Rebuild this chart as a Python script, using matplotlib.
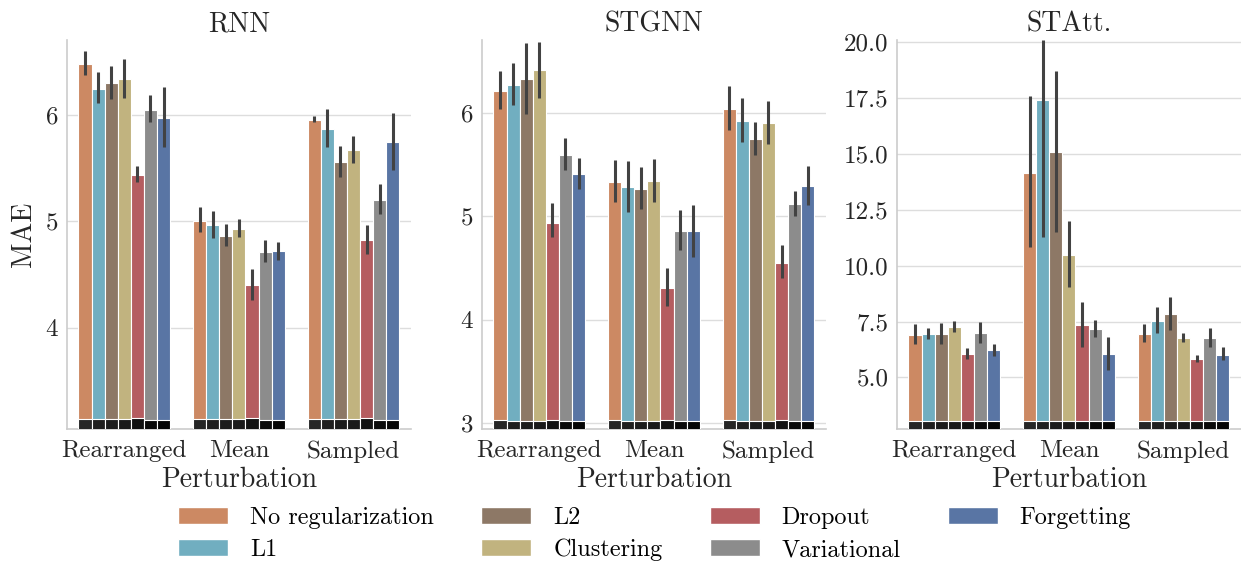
import colorsys
import numpy as np
import matplotlib
matplotlib.use("Agg")
import matplotlib.pyplot as plt
import matplotlib.colors as mcolors
from matplotlib.patches import Patch

# Datos
models = ["RNN", "STGNN", "STAtt."]
perturbations = ["Rearranged", "Mean", "Sampled"]
methods = ["No regularization", "L1", "L2", "Clustering", "Dropout", "Variational", "Forgetting"]

# MAE medio, por perturbacion (filas) y metodo (columnas)
rnn_mae = [[6.48, 6.245, 6.30, 6.336, 5.437, 6.047, 5.97],
           [5.006, 4.965, 4.865, 4.93, 4.40, 4.71, 4.717],
           [5.953, 5.868, 5.56, 5.667, 4.82, 5.20, 5.745]]
rnn_lo = [[6.368, 6.11, 6.15, 6.16, 5.365, 5.93, 5.695],
          [4.90, 4.84, 4.77, 4.85, 4.264, 4.62, 4.64],
          [5.93, 5.70, 5.418, 5.547, 4.69, 5.07, 5.48]]
rnn_hi = [[6.597, 6.40, 6.46, 6.525, 5.52, 6.18, 6.255],
          [5.13, 5.10, 4.97, 5.02, 4.555, 4.82, 4.805],
          [5.985, 6.05, 5.71, 5.796, 4.965, 5.346, 6.016]]

stgnn_mae = [[6.209, 6.267, 6.32, 6.41, 4.93, 5.595, 5.41],
             [5.334, 5.283, 5.264, 5.341, 4.309, 4.858, 4.852],
             [6.039, 5.92, 5.746, 5.904, 4.55, 5.119, 5.289]]
stgnn_lo = [[6.03, 6.074, 5.99, 6.145, 4.80, 5.45, 5.26],
            [5.14, 5.04, 5.07, 5.14, 4.13, 4.67, 4.61],
            [5.833, 5.714, 5.59, 5.70, 4.40, 5.006, 5.11]]
stgnn_hi = [[6.40, 6.48, 6.67, 6.68, 5.125, 5.75, 5.563],
            [5.54, 5.537, 5.47, 5.547, 4.50, 5.058, 5.106],
            [6.254, 6.138, 5.91, 6.116, 4.717, 5.24, 5.48]]

statt_mae = [[6.894, 6.94, 6.92, 7.25, 6.03, 6.98, 6.21],
             [14.17, 17.42, 15.08, 10.457, 7.326, 7.16, 6.04],
             [6.94, 7.535, 7.83, 6.76, 5.805, 6.76, 6.01]]
statt_lo = [[6.49, 6.70, 6.476, 7.04, 5.835, 6.55, 5.97],
            [10.83, 11.28, 11.53, 9.03, 6.357, 6.82, 5.33],
            [6.57, 7.0, 7.12, 6.6, 5.67, 6.357, 5.76]]
statt_hi = [[7.37, 7.22, 7.445, 7.52, 6.31, 7.49, 6.506],
            [17.60, 20.09, 18.70, 11.98, 8.355, 7.58, 6.80],
            [7.37, 8.13, 8.62, 7.0, 6.0, 7.22, 6.357]]

# MAE sin perturbacion (barras negras)
rnn_base = [3.14, 3.145, 3.145, 3.145, 3.15, 3.138, 3.133]
stgnn_base = [3.03, 3.025, 3.025, 3.02, 3.03, 3.022, 3.025]
statt_base = [3.05, 3.05, 3.045, 3.045, 3.05, 3.045, 3.045]

panels = [(rnn_mae, rnn_lo, rnn_hi, rnn_base),
          (stgnn_mae, stgnn_lo, stgnn_hi, stgnn_base),
          (statt_mae, statt_lo, statt_hi, statt_base)]


def desaturate(c, prop=0.75):
    h, l, s = colorsys.rgb_to_hls(*mcolors.to_rgb(c))
    return colorsys.hls_to_rgb(h, l, s * prop)


deep = ["#DD8452", "#64B5CD", "#937860", "#CCB974", "#C44E52", "#8C8C8C", "#4C72B0"]
colors = [desaturate(c) for c in deep]
dark = ["#262626", "#1f1f1f", "#1c1c1c", "#1a1a1a", "#121212", "#0a0a0a", "#050505"]

plt.rcParams["font.family"] = ["cmr10", "DejaVu Serif"]
plt.rcParams["axes.formatter.use_mathtext"] = True
plt.rcParams["mathtext.fontset"] = "cm"

fig = plt.figure(figsize=(12.41, 5.62), dpi=100)
lefts = [0.054, 0.3884, 0.7228]
ylims = [(3.05, 6.70), (2.945, 6.70), (2.69, 20.1)]
yticks = [[4, 5, 6], [3, 4, 5, 6], [5, 7.5, 10, 12.5, 15, 17.5, 20]]

n = len(methods)
w = 0.8 / n
for k, (mae, lo, hi, base) in enumerate(panels):
    ax = fig.add_axes([lefts[k], 0.2367, 0.277, 0.692])
    for i in range(len(perturbations)):
        for j in range(n):
            x = i + (j - (n - 1) / 2) * w
            ax.bar(x, mae[i][j], width=w, color=colors[j], edgecolor="white", linewidth=0.8, zorder=2)
            ax.bar(x, base[j], width=w, color=dark[j], edgecolor="white", linewidth=0.8, zorder=3)
            ax.plot([x, x], [lo[i][j], hi[i][j]], color="#424242", lw=2.2, solid_capstyle="butt", zorder=4)
    ax.set_xlim(-0.5, 2.5)
    ax.set_ylim(*ylims[k])
    ax.set_yticks(yticks[k])
    if k == 2:
        ax.set_yticklabels(["%.1f" % t for t in yticks[k]])
    ax.set_xticks(range(len(perturbations)))
    ax.set_xticklabels(perturbations)
    ax.tick_params(length=0, labelsize=18, colors="#262626", pad=6)
    ax.tick_params(axis="x", pad=8)
    ax.grid(axis="y", color="#dddddd", lw=1.0, zorder=0)
    ax.set_axisbelow(True)
    for s in ["top", "right"]:
        ax.spines[s].set_visible(False)
    for s in ["left", "bottom"]:
        ax.spines[s].set_color("#cccccc")
        ax.spines[s].set_linewidth(1.2)
    ax.set_title(models[k], fontsize=20, color="#262626", pad=6)
    ax.set_xlabel("Perturbation", fontsize=20, color="#262626", labelpad=3)
    if k == 0:
        ax.set_ylabel("MAE", fontsize=20, color="#262626", labelpad=6)

handles = [Patch(facecolor=colors[j], edgecolor="white", label=methods[j]) for j in range(n)]
fig.legend(handles=handles, loc="upper left", bbox_to_anchor=(0.136, 0.115), ncol=4,
           frameon=False, fontsize=17.5, handlelength=2.05, handletextpad=0.9,
           columnspacing=1.95, labelspacing=0.4, borderaxespad=0)

plt.savefig("out.png", dpi=100)
